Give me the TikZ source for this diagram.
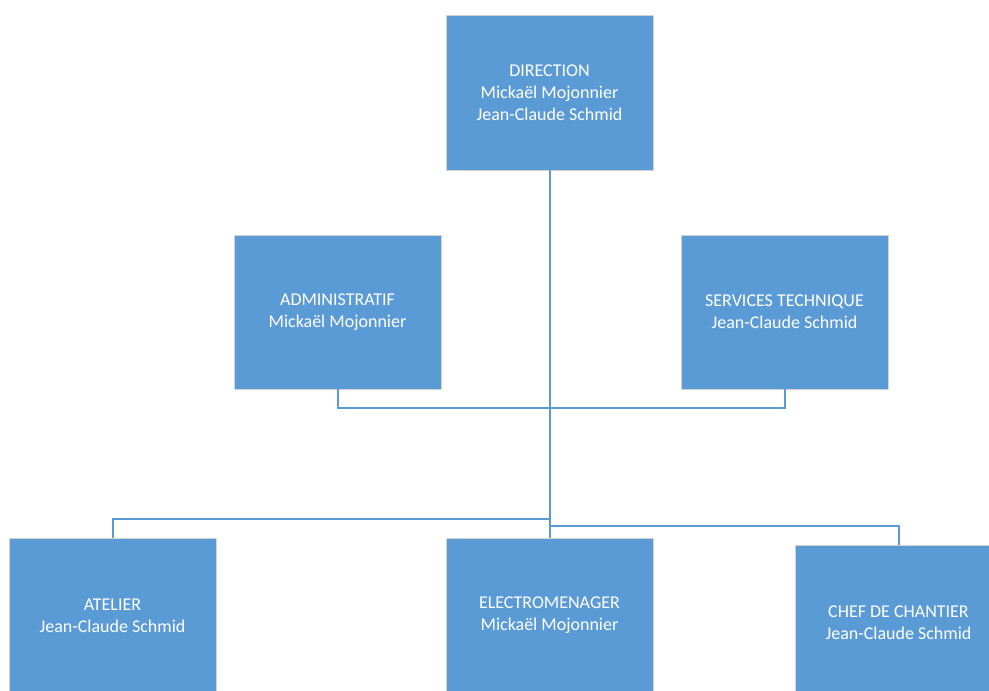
\documentclass[tikz,border=0pt]{standalone}
\usepackage{fontspec}
\setmainfont{Carlito}
\definecolor{boxblue}{HTML}{5B9BD5}
\def\boxw{207pt}
\def\boxh{154pt}

\begin{document}
\begin{tikzpicture}[x=1pt, y=-1pt,
    every node/.style={font=\fontsize{18}{22}\selectfont},
    unit/.style={fill=boxblue, draw=gray!35, line width=0.8pt, text=white, align=center,
      minimum width=\boxw, minimum height=\boxh, inner sep=0pt},
    link/.style={draw=boxblue, line width=2pt}]
      \useasboundingbox (0,0) rectangle (989,691);
      \clip (0,0) rectangle (989,691);
      \node[unit, anchor=center, minimum height=155pt] (dir) at (549.5, 92.5) {DIRECTION\\Mickaël Mojonnier\\Jean-Claude Schmid};
      \node[unit, anchor=center] (adm) at (337.5, 312) {ADMINISTRATIF\\Mickaël Mojonnier};
      \node[unit, anchor=center] (srv) at (784.5, 312) {SERVICES TECHNIQUE\\Jean-Claude Schmid};
      \node[unit, anchor=center] (ate) at (112.5, 615.5) {ATELIER\\Jean-Claude Schmid};
      \node[unit, anchor=center] (ele) at (549.5, 615.5) {ELECTROMENAGER\\Mickaël Mojonnier};
      \node[unit, anchor=center] (chef) at (898.5, 622.5) {CHEF DE CHANTIER\\Jean-Claude Schmid};
      \coordinate (busA) at (549.5, 408);
      \coordinate (busL) at (549.5, 518.5);
      \coordinate (busR) at (549.5, 525.5);
      \draw[link] (dir.south) -- (ele.north);
      \draw[link] (adm.south) |- (busA) -| (srv.south);
      \draw[link] (busL) -| (ate.north);
      \draw[link] (busR) -| (chef.north);
    \end{tikzpicture}
\end{document}
